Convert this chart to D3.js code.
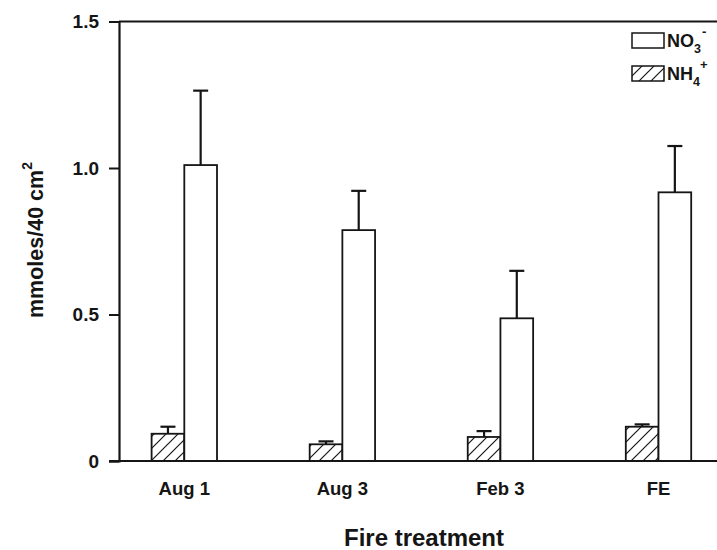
<!DOCTYPE html>
<html>
<head>
<meta charset="utf-8">
<script src="https://cdn.jsdelivr.net/npm/d3@7"></script>
<style>
  body { margin: 0; background: #fff; }
  svg { display: block; font-family: 'Liberation Sans', Arial, sans-serif; font-weight: bold; }
</style>
</head>
<body>
<div class="chart"></div>
<script>
// values
const categories = ['Aug 1', 'Aug 3', 'Feb 3', 'FE'];
const nh4 = [0.093, 0.057, 0.082, 0.117];
const nh4Err = [0.024, 0.010, 0.020, 0.008];
const no3 = [1.010, 0.788, 0.487, 0.917];
const no3Err = [0.254, 0.134, 0.162, 0.158];
const yTicks = [0, 0.5, 1.0, 1.5];

const width = 717, height = 550;
const ink = '#151515';

const svg = d3.select('div.chart')
  .append('svg')
  .attr('width', width)
  .attr('height', height);

const defs = svg.append('defs');
defs.append('pattern')
  .attr('id', 'hatch')
  .attr('patternUnits', 'userSpaceOnUse')
  .attr('width', 12)
  .attr('height', 12)
  .append('path')
    .attr('d', 'M-3,3 L3,-3 M0,12 L12,0 M9,15 L15,9')
    .attr('stroke', ink)
    .attr('stroke-width', 1.2);

// scales (axis at x=119, plot runs off the right edge like the scan)
const y = d3.scaleLinear().domain([0, 1.5]).range([461, 21.5]);
const x0 = d3.scalePoint().domain(categories).range([184.3, 658.5]);
const x1 = d3.scaleBand().domain(['nh4', 'no3']).range([-32.7, 32.7]);

const series = [
  {key: 'nh4', values: nh4, err: nh4Err, fill: 'url(#hatch)'},
  {key: 'no3', values: no3, err: no3Err, fill: '#fff'}
];

// frame top line
svg.append('line')
  .attr('x1', 119).attr('x2', width + 20)
  .attr('y1', y(1.5)).attr('y2', y(1.5))
  .attr('stroke', ink).attr('stroke-width', 2);

// error bars first so bars sit over the stem base
series.forEach(s => {
  const g = svg.append('g').attr('class', 'err-' + s.key);
  categories.forEach((c, i) => {
    const cx = x0(c) + x1(s.key) + x1.bandwidth() / 2;
    const top = y(s.values[i] + s.err[i]);
    g.append('line')
      .attr('x1', cx).attr('x2', cx)
      .attr('y1', y(s.values[i])).attr('y2', top)
      .attr('stroke', ink).attr('stroke-width', 2.2);
    g.append('line')
      .attr('x1', cx - 7.5).attr('x2', cx + 7.5)
      .attr('y1', top).attr('y2', top)
      .attr('stroke', ink).attr('stroke-width', 2.2);
  });
});

series.forEach(s => {
  svg.append('g')
    .attr('class', 'bars-' + s.key)
    .selectAll('rect')
    .data(categories)
    .enter().append('rect')
      .attr('x', c => x0(c) + x1(s.key))
      .attr('width', x1.bandwidth())
      .attr('y', (c, i) => y(s.values[i]))
      .attr('height', (c, i) => y(0) - y(s.values[i]))
      .attr('fill', s.fill)
      .attr('stroke', ink)
      .attr('stroke-width', 1.8);
});

// y axis
const yAxis = svg.append('g')
  .attr('transform', 'translate(119,0)')
  .call(d3.axisLeft(y)
    .tickValues(yTicks)
    .tickSize(10)
    .tickPadding(10)
    .tickFormat(d => d === 0 ? '0' : d3.format('.1f')(d)));
yAxis.select('.domain').attr('stroke', ink).attr('stroke-width', 2.2);
yAxis.selectAll('.tick line').attr('stroke', ink).attr('stroke-width', 2);
yAxis.selectAll('.tick text')
  .attr('fill', ink)
  .style('font-size', '19px')
  .style('font-weight', 'bold')
  .style('font-family', "'Liberation Sans', Arial, sans-serif");

// baseline
svg.append('line')
  .attr('x1', 109).attr('x2', width + 20)
  .attr('y1', y(0)).attr('y2', y(0))
  .attr('stroke', ink).attr('stroke-width', 2.2);

// category labels
svg.append('g')
  .selectAll('text')
  .data(categories)
  .enter().append('text')
    .attr('x', c => x0(c))
    .attr('y', 495)
    .attr('text-anchor', 'middle')
    .attr('fill', ink)
    .style('font-size', '18.5px')
    .text(c => c);

// axis titles
svg.append('text')
  .attr('x', 424)
  .attr('y', 546)
  .attr('text-anchor', 'middle')
  .attr('fill', ink)
  .style('font-size', '24px')
  .text('Fire treatment');

const yTitle = svg.append('text')
  .attr('transform', 'translate(43,240) rotate(-90)')
  .attr('text-anchor', 'middle')
  .attr('fill', ink)
  .style('font-size', '21.5px');
yTitle.append('tspan').text('mmoles/40 cm');
yTitle.append('tspan')
  .attr('dy', -11)
  .style('font-size', '14px')
  .text('2');

// legend
const legendItems = [
  {fill: '#fff', main: 'NO', sub: '3', sup: '-'},
  {fill: 'url(#hatch)', main: 'NH', sub: '4', sup: '+'}
];
const legend = svg.append('g').attr('class', 'legend');
legendItems.forEach((d, i) => {
  const ly = 33 + i * 33;
  legend.append('rect')
    .attr('x', 632).attr('y', ly)
    .attr('width', 32).attr('height', 15)
    .attr('fill', d.fill)
    .attr('stroke', ink)
    .attr('stroke-width', 1.5);
  const t = legend.append('text')
    .attr('x', 667)
    .attr('y', ly + 14)
    .attr('fill', ink)
    .style('font-size', '18px');
  t.append('tspan').text(d.main);
  t.append('tspan').attr('dy', 6).style('font-size', '12.5px').text(d.sub);
  t.append('tspan').attr('dy', -17).attr('dx', d.sup === '-' ? 1 : 0).style('font-size', '13px').text(d.sup);
});
</script>
</body>
</html>
